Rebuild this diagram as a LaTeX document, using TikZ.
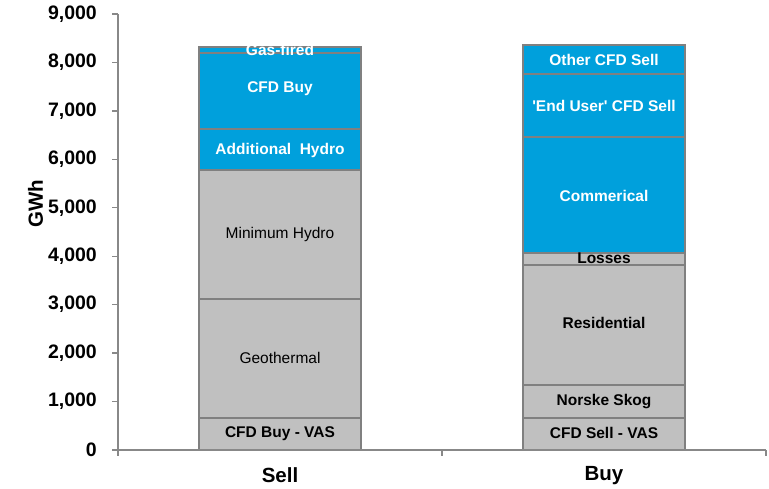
\documentclass[tikz,border=0pt]{standalone}
\usepackage{fontspec}
\setmainfont{Liberation Sans}
\usetikzlibrary{arrows}
\definecolor{barblue}{RGB}{0,160,220}
\definecolor{barfill}{RGB}{192,192,192}
\definecolor{barline}{RGB}{128,128,128}
\definecolor{axisgrey}{RGB}{136,136,136}
\tikzset{ %inner sep = 0.5mm,
  >=latex,
  {blue seg/.style} ={fill=barblue,draw=barline,line width=2pt},
  {grey seg/.style} ={fill=barfill,draw=barline,line width=2pt},
  {light label/.style} ={text=white,font=\fontsize{15.5}{18}\selectfont\bfseries},
  {dark label/.style} ={text=black,font=\fontsize{15.5}{18}\selectfont\bfseries},
  {plain label/.style} ={text=black,font=\fontsize{15.5}{18}\selectfont},
  {axis line/.style} ={draw=axisgrey,line width=1.3pt},
  {tick label/.style} ={anchor=east,inner sep=0,font=\fontsize{19.5}{22}\selectfont\bfseries},
  {cat label/.style} ={font=\fontsize{20.5}{24}\selectfont\bfseries},
}
\begin{document}
\begin{tikzpicture}[x=1pt,y=1pt]
\useasboundingbox (0,0) rectangle (769,488);

\begin{scope}[shift={(0,38)},y=48.44pt]
% Sell
\draw[grey seg] (199,0) rectangle (361,0.66);
\draw[grey seg] (199,0.66) rectangle (361,3.117);
\draw[grey seg] (199,3.117) rectangle (361,5.774);
\draw[blue seg] (199,5.774) rectangle (361,6.62);
\draw[blue seg] (199,6.62) rectangle (361,8.20);
\draw[blue seg] (199,8.20) rectangle (361,8.326);
\node[dark label] (sellvas) at (280,0.33) {CFD Buy - VAS};
\node[plain label] (geo) at (280,1.89) {Geothermal};
\node[plain label] (minhydro) at (280,4.44) {Minimum Hydro};
\node[light label] (addhydro) at (280,6.19) {Additional~~Hydro};
\node[light label] (cfdbuy) at (280,7.45) {CFD Buy};
\node[light label] (gas) at (280,8.25) {Gas-fired};

% Buy
\draw[grey seg] (523,0) rectangle (685,0.654);
\draw[grey seg] (523,0.654) rectangle (685,1.342);
\draw[grey seg] (523,1.342) rectangle (685,3.813);
\draw[grey seg] (523,3.813) rectangle (685,4.061);
\draw[blue seg] (523,4.061) rectangle (685,6.462);
\draw[blue seg] (523,6.462) rectangle (685,7.756);
\draw[blue seg] (523,7.756) rectangle (685,8.361);
\node[dark label] (buyvas) at (604,0.35) {CFD Sell - VAS};
\node[dark label] (norske) at (604,1.01) {Norske Skog};
\node[dark label] (resid) at (604,2.63) {Residential};
\node[dark label] (losses) at (604,3.96) {Losses};
\node[light label] (commer) at (604,5.25) {Commerical};
\node[light label] (enduser) at (604,7.10) {\textquotesingle End User\textquotesingle{} CFD Sell};
\node[light label] (othercfd) at (604,8.06) {Other CFD Sell};

% axes
\coordinate (origin) at (118,0);
\coordinate (ytop) at (118,9);
\coordinate (xmid) at (442,0);
\coordinate (xend) at (766,0);
\draw[axis line] (ytop) -- (origin) -- (xend);
\draw[axis line] (origin) -- ++(0,-6pt);
\draw[axis line] (xmid) -- ++(0,-6pt);
\draw[axis line] (xend) -- ++(0,-6pt);
\foreach \v/\t in {0/0,1/{1,000},2/{2,000},3/{3,000},4/{4,000},5/{5,000},6/{6,000},7/{7,000},8/{8,000},9/{9,000}}{
  \draw[axis line] (112,\v) -- (118,\v);
  \node[tick label] (tick\v) at (97,\v) {\t};
}
\node[cat label,rotate=90] (gwh) at (35.5,5.09) {GWh};
\node[cat label] (sell) at (280,-0.52) {Sell};
\node[cat label] (buy) at (604,-0.52) {Buy};
\end{scope}
\end{tikzpicture}
\end{document}
